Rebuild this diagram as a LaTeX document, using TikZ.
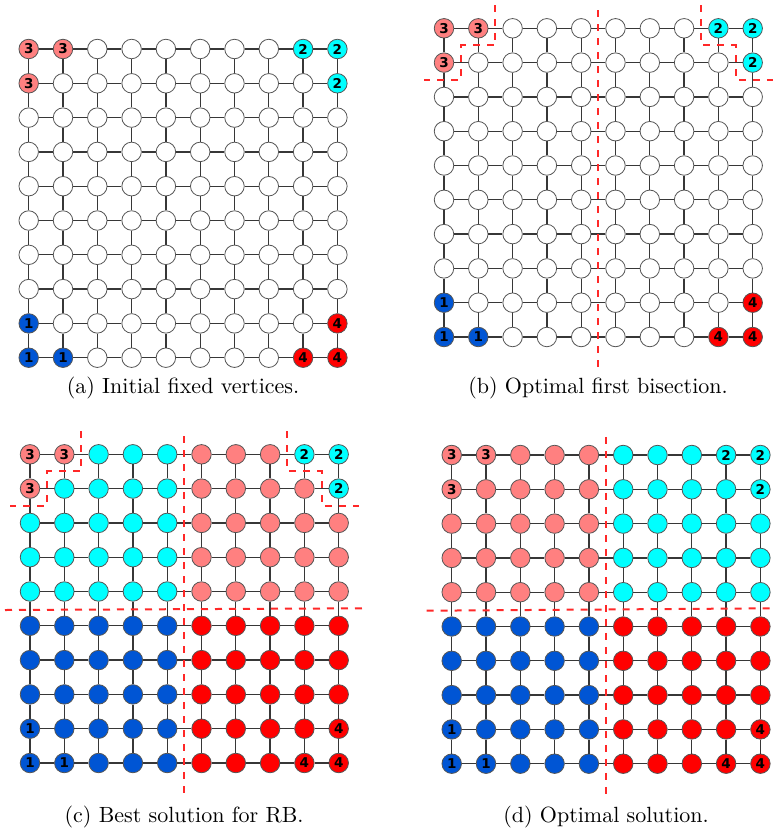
\documentclass[tikz,border=0pt]{standalone}
\usepackage{fontspec}
\newfontfamily\labfont{DejaVu Sans}
\definecolor{cS}{RGB}{255,128,128}
\definecolor{cC}{RGB}{0,255,255}
\definecolor{cB}{RGB}{0,85,212}
\definecolor{cR}{RGB}{255,0,0}
\definecolor{edgecol}{RGB}{55,55,55}
\definecolor{rimcol}{RGB}{85,85,85}
\definecolor{cutcol}{RGB}{255,40,40}
\tikzset{
  vtx/.style={circle, draw=rimcol, line width=0.8pt, minimum size=19.5pt, inner sep=0pt,
    font=\labfont\bfseries\fontsize{13.5}{13.5}\selectfont},
  edge/.style={draw=edgecol, line width=1.3pt},
  cut/.style={draw=cutcol, line width=2pt, dash pattern=on 7pt off 7pt},
  caption/.style={font=\normalsize, scale=2.2, inner sep=0pt},
}
\def\sp{34.3}
\newcommand\setfixed[2]{%
  \def\celllab{}\def\fixcol{}%
  \ifnum\numexpr#1+#2\relax<2 \def\celllab{3}\def\fixcol{cS}\fi
  \ifnum\numexpr(9-#1)+#2\relax<2 \def\celllab{2}\def\fixcol{cC}\fi
  \ifnum\numexpr#1+(9-#2)\relax<2 \def\celllab{1}\def\fixcol{cB}\fi
  \ifnum\numexpr(9-#1)+(9-#2)\relax<2 \def\celllab{4}\def\fixcol{cR}\fi
}
\newcommand\colfixed{\ifx\fixcol\empty\def\cellcol{white}\else\let\cellcol\fixcol\fi}
\newcommand\colrb{\ifx\fixcol\empty
   \ifnum\j<5 \ifnum\i<5 \def\cellcol{cC}\else\def\cellcol{cS}\fi
   \else \ifnum\i<5 \def\cellcol{cB}\else\def\cellcol{cR}\fi\fi
  \else\let\cellcol\fixcol\fi}
\newcommand\colopt{\ifnum\j<5 \ifnum\i<5 \def\cellcol{cS}\else\def\cellcol{cC}\fi
   \else \ifnum\i<5 \def\cellcol{cB}\else\def\cellcol{cR}\fi\fi}
\newcommand\gridpanel[4]{%
  \foreach \i in {0,...,9}{\foreach \j in {0,...,9}{%
    \setfixed{\i}{\j}#4%
    \node[vtx, fill=\cellcol] (#1-\i-\j) at ({#2+\i*\sp},{#3+\j*\sp}) {\celllab};
  }}%
  \foreach \i in {0,...,9}{\foreach \j [count=\k from 1] in {0,...,8}{%
    \draw[edge] (#1-\i-\j) -- (#1-\i-\k);
    \draw[edge] (#1-\j-\i) -- (#1-\k-\i);
  }}%
}
\newcommand\stairs[2]{%
  \draw[cut] ({#1+1.5*\sp},{#2-0.67*\sp}) -- ({#1+1.5*\sp},{#2+0.5*\sp})
     -- ({#1+0.5*\sp},{#2+0.5*\sp}) -- ({#1+0.5*\sp},{#2+1.5*\sp}) -- ({#1-0.58*\sp},{#2+1.5*\sp});
  \draw[cut] ({#1+7.5*\sp},{#2-0.67*\sp}) -- ({#1+7.5*\sp},{#2+0.5*\sp})
     -- ({#1+8.5*\sp},{#2+0.5*\sp}) -- ({#1+8.5*\sp},{#2+1.5*\sp}) -- ({#1+9.58*\sp},{#2+1.5*\sp});
}
\newcommand\vcut[2]{%
  \draw[cut] ({#1+4.5*\sp},{#2-0.53*\sp}) -- ({#1+4.5*\sp},{#2+9.87*\sp});
}
\begin{document}
\begin{tikzpicture}[x=1pt,y=-1pt]
\useasboundingbox (0,0) rectangle (775,831);
% (a)
\gridpanel{a}{28.7}{49}{\colfixed}
\node[caption] (capa) at (183,388) {(a) Initial fixed vertices.};
% (b)
\gridpanel{b}{444}{28.3}{\colfixed}
\vcut{444}{28.3}
\stairs{444}{28.3}
\node[caption] (capb) at (598,388) {(b) Optimal first bisection.};
% (c)
\gridpanel{c}{30}{454.3}{\colrb}
\vcut{30}{454.3}
\stairs{30}{454.3}
\draw[cut] (5,610) -- (363,608.3);
\node[caption] (capc) at (184,817) {(c) Best solution for RB.};
% (d)
\gridpanel{d}{451.7}{455}{\colopt}
\vcut{451.7}{455}
\draw[cut] (426.7,610.7) -- (775,608.3);
\node[caption] (capd) at (606,817) {(d) Optimal solution.};
\end{tikzpicture}
\end{document}
